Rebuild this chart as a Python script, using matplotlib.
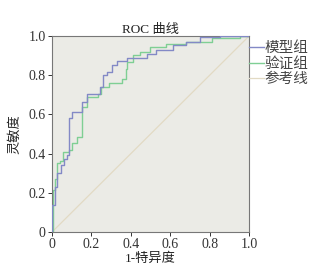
import numpy as np
import matplotlib
matplotlib.use('Agg')
import matplotlib.pyplot as plt

plt.rcParams['font.family'] = ['Liberation Serif', 'Noto Sans CJK SC']

# model group ROC corners (x = 1-specificity, y = sensitivity)
model_fpr = [0, 0, 0.015, 0.027, 0.044, 0.061, 0.075, 0.088, 0.1, 0.15, 0.18, 0.244, 0.26,
             0.278, 0.303, 0.328, 0.382, 0.43, 0.48, 0.53, 0.615, 0.68, 0.75, 0.853, 1.0]
model_tpr = [0, 0.138, 0.231, 0.299, 0.342, 0.371, 0.393, 0.58, 0.614, 0.665, 0.704, 0.741, 0.80,
             0.818, 0.852, 0.872, 0.886, 0.89, 0.91, 0.929, 0.954, 0.971, 0.996, 1.0, 1.0]
# validation group
valid_fpr = [0, 0.007, 0.015, 0.027, 0.041, 0.058, 0.088, 0.1, 0.125, 0.15, 0.176, 0.235, 0.25,
             0.29, 0.354, 0.376, 0.38, 0.413, 0.447, 0.497, 0.58, 0.68, 0.81, 0.954, 1.0]
valid_tpr = [0, 0.214, 0.269, 0.35, 0.364, 0.41, 0.418, 0.452, 0.483, 0.636, 0.69, 0.704, 0.741,
             0.759, 0.78, 0.83, 0.869, 0.903, 0.92, 0.945, 0.958, 0.971, 0.988, 1.0, 1.0]
ref = [0, 1]

labels = ['模型组', '验证组', '参考线']
ticks = [0, 0.2, 0.4, 0.6, 0.8, 1.0]
tick_labels = ['0', '0.2', '0.4', '0.6', '0.8', '1.0']

fig = plt.figure(figsize=(3.34, 2.73), dpi=100)
ax = fig.add_axes([0.1557, 0.150, 0.59, 0.718])
ax.set_facecolor('#ebebe6')

ax.plot(ref, ref, color='#e2dac4', lw=0.9, label=labels[2], zorder=1)
ax.plot(valid_fpr, valid_tpr, drawstyle='steps-post', color='#7fcf94', lw=1.0, label=labels[1], zorder=2)
ax.plot(model_fpr, model_tpr, drawstyle='steps-post', color='#8389c6', lw=1.0, label=labels[0], zorder=3)

ax.set_xlim(0, 1)
ax.set_ylim(0, 1)
ax.set_xticks(ticks)
ax.set_xticklabels(tick_labels)
ax.set_yticks(ticks)
ax.set_yticklabels(tick_labels)
ax.tick_params(labelsize=10, length=3, width=0.7, colors='#333333', pad=1.5)
for s in ax.spines.values():
    s.set_color('#777777')
    s.set_linewidth(0.8)

ax.set_title('ROC 曲线', fontsize=9.5, pad=2, color='#222222')
ax.set_xlabel('1-特异度', fontsize=9.5, labelpad=1, color='#222222')
ax.set_ylabel('灵敏度', fontsize=9.5, labelpad=5, color='#222222')

h, l = ax.get_legend_handles_labels()
order = [2, 1, 0]
ax.legend([h[i] for i in order], [l[i] for i in order], loc='upper left',
          bbox_to_anchor=(0.985, 0.99), frameon=False, fontsize=10.5, handlelength=1.0,
          handletextpad=0.05, borderaxespad=0.0, borderpad=0.2, labelspacing=0.15,
          labelcolor='#444444')

fig.savefig('out.png', dpi=100)
